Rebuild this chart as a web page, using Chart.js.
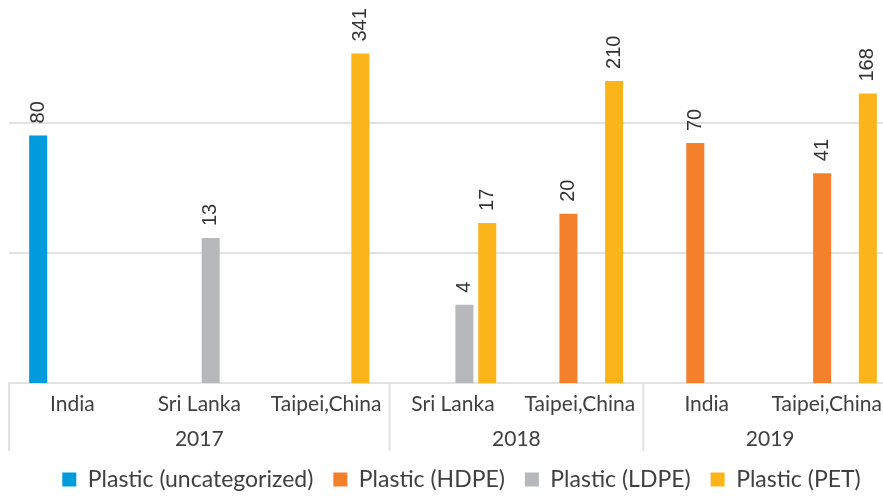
<!DOCTYPE html>
<html lang="en">

<head>
  <meta charset="UTF-8">
  <title>Plastic types by location and year</title>
  <script src="https://cdn.jsdelivr.net/npm/chart.js"></script>
  <style>
    html, body {
      margin: 0;
      padding: 0;
      background: #fff;
    }
    #wrap {
      width: 883px;
      height: 497px;
      overflow: hidden;
    }
  </style>
</head>

<body>
  <div id="wrap">
    <canvas id="plasticChart" width="914" height="501"></canvas>
  </div>

  <script>
    const locations = ['India', 'Sri Lanka', 'Taipei,China', 'Sri Lanka', 'Taipei,China', 'India', 'Taipei,China'];
    const years = ['2017', '2018', '2019'];
    const locationsPerYear = [3, 2, 2];

    const uncategorized = [80, null, null, null, null, null, null];
    const hdpe = [null, null, null, null, 20, 70, 41];
    const ldpe = [null, 13, null, 4, null, null, null];
    const pet = [null, null, 341, 17, 210, null, 168];

    const yGridValues = [1, 10, 100];

    const textColor = '#404040';
    const lineColor = '#e2e2e2';
    const uiFont = 'Lato, "Open Sans", sans-serif';

    // value labels standing upright above each bar
    const barValueLabels = {
      id: 'barValueLabels',
      afterDatasetsDraw(chart) {
        const ctx = chart.ctx;
        ctx.save();
        ctx.fillStyle = '#333333';
        ctx.font = '20px "Liberation Sans", Arial, sans-serif';
        ctx.textAlign = 'left';
        ctx.textBaseline = 'middle';
        chart.data.datasets.forEach((ds, di) => {
          const meta = chart.getDatasetMeta(di);
          meta.data.forEach((bar, i) => {
            const v = ds.data[i];
            if (v === null) return;
            ctx.save();
            ctx.translate(bar.x, bar.y - 12);
            ctx.rotate(-Math.PI / 2);
            ctx.fillText(String(v), 0, 0);
            ctx.restore();
          });
        });
        ctx.restore();
      }
    };

    // two-level category axis: location names, then years with separators
    const groupedAxis = {
      id: 'groupedAxis',
      afterDraw(chart) {
        const ctx = chart.ctx;
        const xs = chart.scales.x;
        const slot = xs.width / locations.length;
        const top = chart.chartArea.bottom;
        // the plot runs past the visible frame on the right; keep names inside it
        const visibleRight = chart.canvas.parentNode.clientWidth - 1;
        ctx.save();
        ctx.fillStyle = textColor;
        ctx.font = '21px ' + uiFont;
        ctx.textAlign = 'center';
        ctx.textBaseline = 'middle';
        locations.forEach((name, i) => {
          const half = ctx.measureText(name).width / 2;
          const x = Math.min(xs.getPixelForValue(i), visibleRight - half);
          ctx.fillText(name, x, top + 21);
        });

        ctx.strokeStyle = lineColor;
        ctx.lineWidth = 2;
        let start = 0;
        const edges = [xs.getPixelForValue(0) - slot / 2];
        years.forEach((yr, g) => {
          const end = start + locationsPerYear[g] - 1;
          const left = xs.getPixelForValue(start) - slot / 2;
          const right = xs.getPixelForValue(end) + slot / 2;
          ctx.fillText(yr, (left + right) / 2, top + 56);
          edges.push(right);
          start = end + 1;
        });
        edges.forEach(x => {
          ctx.beginPath();
          ctx.moveTo(x, top);
          ctx.lineTo(x, top + 68);
          ctx.stroke();
        });
        ctx.restore();
      }
    };

    const ctx = document.getElementById('plasticChart').getContext('2d');

    new Chart(ctx, {
      type: 'bar',
      data: {
        labels: locations,
        datasets: [
          { label: 'Plastic (uncategorized)', data: uncategorized, backgroundColor: '#009bdc' },
          { label: 'Plastic (HDPE)', data: hdpe, backgroundColor: '#f4802c' },
          { label: 'Plastic (LDPE)', data: ldpe, backgroundColor: '#b7b8bc' },
          { label: 'Plastic (PET)', data: pet, backgroundColor: '#fbb41a' }
        ]
      },
      options: {
        responsive: false,
        animation: false,
        layout: {
          padding: { top: 2, left: 9, right: 0, bottom: 0 }
        },
        datasets: {
          bar: {
            barPercentage: 0.79,
            categoryPercentage: 0.72
          }
        },
        scales: {
          x: {
            ticks: { display: false },
            grid: { display: false },
            border: { display: true, color: lineColor, width: 2 },
            afterFit(scale) { scale.height = 65; }
          },
          y: {
            type: 'logarithmic',
            position: 'right',
            min: 1,
            max: 850,
            ticks: { display: false },
            grid: { color: lineColor, lineWidth: 2, drawTicks: false },
            border: { display: false },
            afterBuildTicks(scale) {
              scale.ticks = yGridValues.map(v => ({ value: v }));
            },
            afterFit(scale) { scale.width = 17; }
          }
        },
        plugins: {
          legend: {
            position: 'bottom',
            labels: {
              boxWidth: 14,
              boxHeight: 14,
              padding: 20,
              color: textColor,
              font: { family: uiFont, size: 23 }
            }
          },
          tooltip: { enabled: false }
        }
      },
      plugins: [barValueLabels, groupedAxis]
    });
  </script>
</body>

</html>
